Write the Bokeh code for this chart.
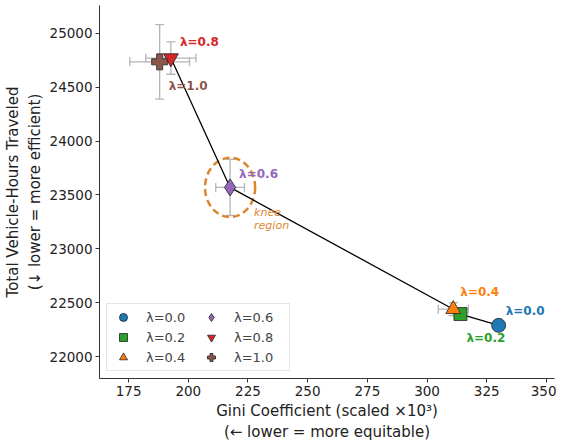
from bokeh.plotting import figure
from bokeh.models import Range1d, Whisker, ColumnDataSource, Label, Legend, LegendItem, TeeHead
from bokeh.embed import file_html
from bokeh.resources import INLINE

lambdas = ["λ=0.0", "λ=0.2", "λ=0.4", "λ=0.6", "λ=0.8", "λ=1.0"]
gini = [330.0, 314.0, 311.0, 217.5, 192.7, 188.0]
vht = [22290, 22395, 22440, 23570, 24770, 24735]
gini_err = [0.0, 0.0, 6.3, 6.0, 10.5, 12.5]
vht_err = [0, 0, 60, 260, 150, 345]
colors = ["#1f77b4", "#2ca02c", "#ff7f0e", "#9467bd", "#d62728", "#8c564b"]
markers = ["circle", "square", "triangle", "diamond", "inverted_triangle", "plus"]
msizes = [14, 13, 15, 17, 15, 16]
lab_off = [(7, 14), (6, -24), (7, 17), (9, 13), (9, 16), (9, -24)]

FONT = "DejaVu Sans"

p = figure(width=556, height=444, output_backend="svg", toolbar_location=None,
           x_range=Range1d(162.8, 353.4), y_range=Range1d(21797, 25258),
           min_border_top=5, min_border_right=2, min_border_left=6, min_border_bottom=0)
p.outline_line_color = None
p.xgrid.visible = False
p.ygrid.visible = False
p.xaxis.ticker = [175, 200, 225, 250, 275, 300, 325, 350]
p.yaxis.ticker = [22000, 22500, 23000, 23500, 24000, 24500, 25000]
for ax in (p.xaxis[0], p.yaxis[0]):
    ax.major_label_text_font = FONT
    ax.major_label_text_font_size = "13.5px"
    ax.major_label_text_color = "#222222"
    ax.axis_label_text_font = FONT
    ax.axis_label_text_font_size = "15px"
    ax.axis_label_text_font_style = "normal"
    ax.axis_label_text_color = "#222222"
    ax.axis_label_standoff = 3
    ax.major_label_standoff = 3
    ax.minor_tick_line_color = None
    ax.major_tick_out = 4
    ax.major_tick_in = 0
    ax.axis_line_color = "#333333"
    ax.major_tick_line_color = "#333333"
p.xaxis.axis_label = "Gini Coefficient (scaled ×10³)\n(← lower = more equitable)"
p.yaxis.axis_label = "Total Vehicle-Hours Traveled\n(↓ lower = more efficient)"
p.yaxis.formatter.use_scientific = False

src = ColumnDataSource(dict(
    x=gini, y=vht,
    xl=[g - e for g, e in zip(gini, gini_err)], xu=[g + e for g, e in zip(gini, gini_err)],
    yl=[v - e for v, e in zip(vht, vht_err)], yu=[v + e for v, e in zip(vht, vht_err)],
))
ecol = "#b5b5b5"
wx = Whisker(base="y", lower="xl", upper="xu", dimension="width", source=src,
             line_color=ecol, line_width=1.3,
             upper_head=TeeHead(size=9, line_color=ecol, line_width=1.3),
             lower_head=TeeHead(size=9, line_color=ecol, line_width=1.3))
wy = Whisker(base="x", lower="yl", upper="yu", dimension="height", source=src,
             line_color=ecol, line_width=1.3,
             upper_head=TeeHead(size=9, line_color=ecol, line_width=1.3),
             lower_head=TeeHead(size=9, line_color=ecol, line_width=1.3))
p.add_layout(wx)
p.add_layout(wy)

# knee ellipse
p.ellipse(x=[gini[3]], y=[vht[3]], width=21, height=550, fill_color=None,
          line_color="#dd8630", line_width=2.5, line_dash="7 4")

p.line(gini, vht, line_color="black", line_width=1.3)

items = []
for i in range(len(lambdas)):
    r = p.scatter([gini[i]], [vht[i]], marker=markers[i], size=msizes[i],
                  fill_color=colors[i], line_color="#222222", line_width=0.8)
    items.append(LegendItem(label=lambdas[i], renderers=[r]))
    dx, dy = lab_off[i]
    p.add_layout(Label(x=gini[i], y=vht[i], x_offset=dx, y_offset=dy, text=lambdas[i],
                       text_font=FONT, text_font_size="12px", text_font_style="bold",
                       text_color=colors[i], text_baseline="middle"))

p.add_layout(Label(x=gini[3], y=vht[3], x_offset=24, y_offset=-25, text="knee",
                   text_font=FONT, text_font_size="11px", text_font_style="italic",
                   text_color="#dd8630", text_baseline="middle"))
p.add_layout(Label(x=gini[3], y=vht[3], x_offset=24, y_offset=-38, text="region",
                   text_font=FONT, text_font_size="11px", text_font_style="italic",
                   text_color="#dd8630", text_baseline="middle"))

legend = Legend(items=items, location="bottom_left", nrows=3, orientation="vertical",
                label_text_font=FONT, label_text_font_size="13px",
                border_line_color="#cccccc", border_line_width=1,
                glyph_width=26, glyph_height=20, spacing=0, padding=3, margin=7,
                label_standoff=10, label_height=17, label_width=52)
p.add_layout(legend)

open("out.html", "w").write(file_html(p, INLINE))
